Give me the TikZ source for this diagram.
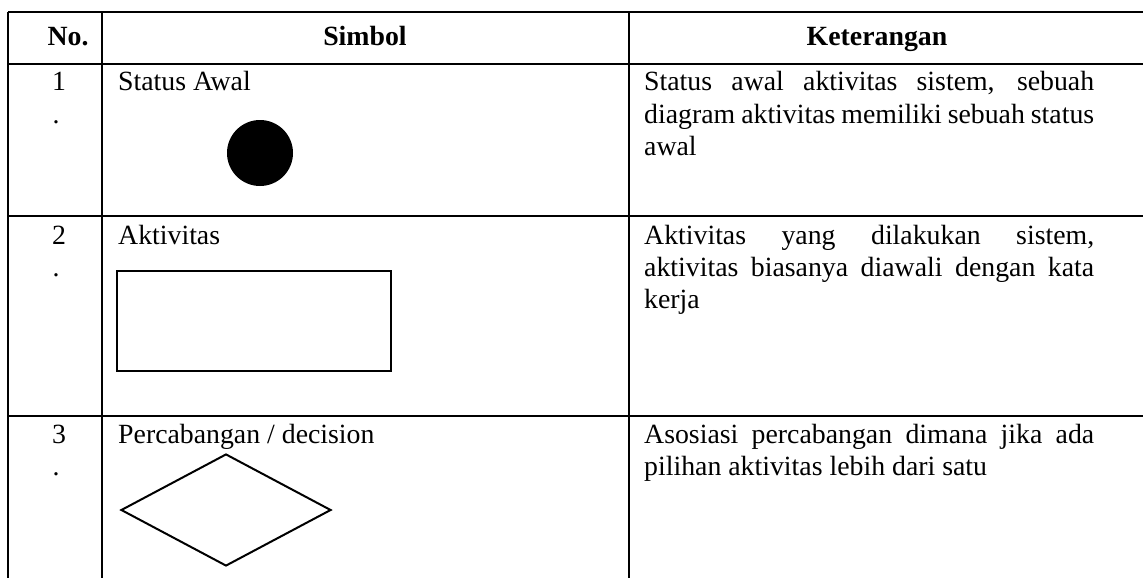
\documentclass[tikz,border=0pt]{standalone}
\usepackage{fontspec}
\setmainfont{Liberation Serif}
\usetikzlibrary{shapes.geometric}
\begin{document}
\begin{tikzpicture}[x=1pt,y=-1pt,
  grid/.style={line width=1.6pt,black},
  txt/.style={inner sep=0pt,anchor=base west,font=\fontsize{27.8pt}{32pt}\selectfont},
  ctxt/.style={inner sep=0pt,anchor=base,font=\fontsize{27.8pt}{32pt}\selectfont},
  head/.style={inner sep=0pt,anchor=base,font=\fontsize{27.8pt}{32pt}\selectfont\bfseries},
  shapeline/.style={line width=2pt,black}]
\useasboundingbox (0,0) rectangle (1143,578);
% table rules
\draw[grid] (8,12) -- (1143,12);
\draw[grid] (8,64) -- (1143,64);
\draw[grid] (8,216) -- (1143,216);
\draw[grid] (8,416) -- (1143,416);
\draw[grid] (8,12) -- (8,578);
\draw[grid] (102,12) -- (102,578);
\draw[grid] (629,12) -- (629,578);
% header
\node[head] (hno) at (68,46) {No.};
\node[head] (hsym) at (365,46) {Simbol};
\node[head] (hket) at (877,46) {Keterangan};
% row 1
\node[ctxt] (n1) at (59,91) {1};
\node[ctxt] (d1) at (56,123) {.};
\node[txt] (s1) at (118,91) {Status Awal};
\node[circle,fill=black,minimum size=66pt,inner sep=0pt] (start) at (260,153) {};
\node[txt] (k1a) at (644,91) {\makebox[450pt][s]{Status awal aktivitas sistem, sebuah}};
\node[txt] (k1b) at (644,123) {\makebox[450pt][s]{diagram aktivitas memiliki sebuah status}};
\node[txt] (k1c) at (644,155) {awal};
% row 2
\node[ctxt] (n2) at (59,244) {2};
\node[ctxt] (d2) at (56,276) {.};
\node[txt] (s2) at (118,244) {Aktivitas};
\node[draw,shapeline,rectangle,minimum width=274pt,minimum height=100pt,inner sep=0pt] (act) at (254,321) {};
\node[txt] (k2a) at (644,244) {\makebox[450pt][s]{Aktivitas yang dilakukan sistem,}};
\node[txt] (k2b) at (644,276) {\makebox[450pt][s]{aktivitas biasanya diawali dengan kata}};
\node[txt] (k2c) at (644,308) {kerja};
% row 3
\node[ctxt] (n3) at (59,443) {3};
\node[ctxt] (d3) at (56,475) {.};
\node[txt] (s3) at (118,443) {Percabangan / decision};
\node[draw,shapeline,diamond,minimum width=210pt,minimum height=112pt,inner sep=0pt] (dec) at (226,510) {};
\node[txt] (k3a) at (644,443) {\makebox[450pt][s]{Asosiasi percabangan dimana jika ada}};
\node[txt] (k3b) at (644,475) {pilihan aktivitas lebih dari satu};
\end{tikzpicture}
\end{document}
